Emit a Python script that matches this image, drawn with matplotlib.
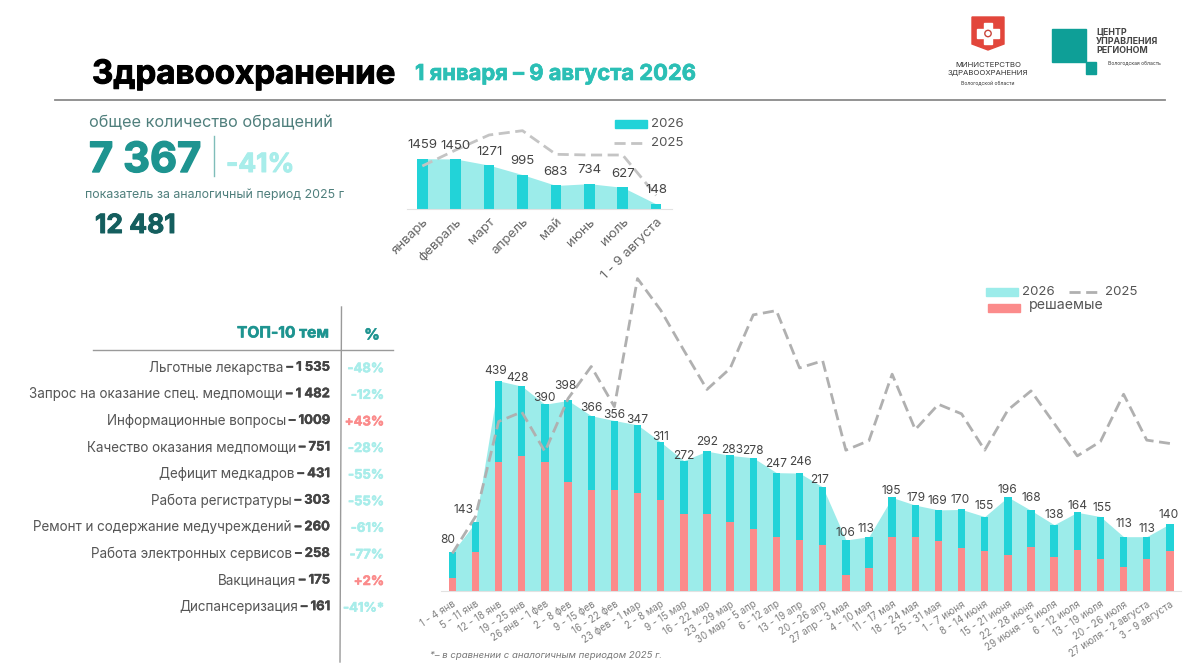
import matplotlib
matplotlib.use("Agg")
import matplotlib.pyplot as plt
import matplotlib.patheffects as pe
from matplotlib.patches import Rectangle, Polygon, Circle

plt.rcParams['font.family'] = ['Inter', 'DejaVu Sans']

W, H = 1200, 668

# monthly chart
months = ['январь', 'февраль', 'март', 'апрель', 'май', 'июнь', 'июль', '1 - 9 августа']
month_2026 = [1459, 1450, 1271, 995, 683, 734, 627, 148]
month_2025 = [1246, 1710, 2145, 2270, 1585, 1565, 1565, 395]

# weekly chart
weeks = ['1 - 4 янв', '5 - 11 янв', '12 - 18 янв', '19 - 25 янв', '26 янв - 1 фев', '2 - 8 фев',
         '9 - 15 фев', '16 - 22 фев', '23 фев - 1 мар', '2 - 8 мар', '9 - 15 мар', '16 - 22 мар',
         '23 - 29 мар', '30 мар - 5 апр', '6 - 12 апр', '13 - 19 апр', '20 - 26 апр', '27 апр - 3 мая',
         '4 - 10 мая', '11 - 17 мая', '18 - 24 мая', '25 - 31 мая', '1 - 7 июня', '8 - 14 июня',
         '15 - 21 июня', '22 - 28 июня', '29 июня - 5 июля', '6 - 12 июля', '13 - 19 июля',
         '20 - 26 июля', '27 июля - 2 августа', '3 - 9 августа']
week_2026 = [80, 143, 439, 428, 390, 398, 366, 356, 347, 311, 272, 292, 283, 278, 247, 246,
             217, 106, 113, 195, 179, 169, 170, 155, 196, 168, 138, 164, 155, 113, 113, 140]
week_solved = [26, 82, 270, 282, 270, 228, 211, 211, 204, 190, 160, 161, 143, 130, 112, 106,
               96, 32, 48, 113, 113, 105, 90, 84, 75, 91, 71, 85, 66, 50, 66, 83]
week_2025 = [78, 155, 354, 374, 291, 402, 469, 385, 653, 587, 503, 421, 465, 577, 586, 466,
             481, 294, 314, 453, 337, 390, 370, 294, 378, 418, 350, 282, 312, 411, 315, 308]

# top-10 table
topics = ['Льготные лекарства', 'Запрос на оказание спец. медпомощи', 'Информационные вопросы',
          'Качество оказания медпомощи', 'Дефицит медкадров', 'Работа регистратуры',
          'Ремонт и содержание медучреждений', 'Работа электронных сервисов', 'Вакцинация',
          'Диспансеризация']
topic_counts = ['1 535', '1 482', '1009', '751', '431', '303', '260', '258', '175', '161']
topic_change = ['-48%', '-12%', '+43%', '-28%', '-55%', '-55%', '-61%', '-77%', '+2%', '-41%*']

TEAL = '#22D3D8'
LIGHT = '#9CECEA'
RED = '#FB8B8B'
DASH = '#B0B0B0'
GRAY = '#555555'
DASHES = (4, 2)

# label nudges in pixels, only to follow the original placement
week_dx = [-5, -12, -3, -4, 0, -3, 0, 0, 0, 0, 0, 0, 2, 0, 0, 1, -3, 0, -3, -1, 1, -1, -1, -1, 0, 0, 0, 0, 2, 0, 0, -1]
week_dy = [12, 12, 10, 8, 6, 14, 8, 6, 5, 5, 5, 9, 5, 7, 9, 11, 7, 7, 8, 6, 7, 9, 9, 11, 7, 12, 10, 6, 9, 13, 8, 9]


def axes_px(fig, left, right, top, bottom):
    return fig.add_axes([left / W, 1 - bottom / H, (right - left) / W, (bottom - top) / H])


def clean(ax):
    ax.patch.set_alpha(0)
    for s in ['top', 'left', 'right']:
        ax.spines[s].set_visible(False)
    ax.spines['bottom'].set_color('#E2E2E2')
    ax.set_yticks([])
    ax.tick_params(axis='x', length=0)


def heavy(txt, col, width=0.7):
    # thickens Inter Bold towards the extra bold of the original
    txt.set_path_effects([pe.withStroke(linewidth=width, foreground=col)])
    return txt


fig = plt.figure(figsize=(W / 100, H / 100), dpi=100, facecolor='white')

# page layer in pixel coordinates
bg = fig.add_axes([0, 0, 1, 1])
bg.set_xlim(0, W)
bg.set_ylim(H, 0)
bg.axis('off')

heavy(bg.text(92, 75, 'Здравоохранение', fontsize=23.8, fontweight='bold', color='black', va='center'), 'black')
heavy(bg.text(415, 74, '1 января – 9 августа 2026', fontsize=15.8, fontweight='bold', color='#2BBFB5', va='center'), '#2BBFB5', 0.5)
bg.plot([55, 1165], [100, 100], color='#8A8A8A', lw=1.3)

bg.text(89, 122, 'общее количество обращений', fontsize=11.7, color='#4F7F7C', va='center')
heavy(bg.text(89, 161, '7 367', fontsize=30, fontweight='bold', color='#1E9490', va='center'), '#1E9490', 1)
bg.plot([214, 214], [136, 176], color='#7FBDB9', lw=1)
heavy(bg.text(226, 165, '-41%', fontsize=19, fontweight='bold', color='#A8EDEA', va='center'), '#A8EDEA')
bg.text(85, 195, 'показатель за аналогичный период 2025 г', fontsize=8.9, color='#4F7F7C', va='center')
heavy(bg.text(95, 226, '12 481', fontsize=19, fontweight='bold', color='#145E5E', va='center'), '#145E5E')

# logos
bg.add_patch(Polygon([(972, 17), (1004, 17), (1004, 44), (988, 50), (972, 44)], color='#E2463B'))
bg.add_patch(Rectangle((984, 23), 8, 21, color='white'))
bg.add_patch(Rectangle((977, 29), 22, 9, color='white'))
bg.add_patch(Circle((988, 33.5), 3.2, fill=False, ec='#C9443A', lw=1))
bg.text(988, 65, 'МИНИСТЕРСТВО', fontsize=5.6, ha='center', va='center', color='#333333')
bg.text(988, 73, 'ЗДРАВООХРАНЕНИЯ', fontsize=5.6, ha='center', va='center', color='#333333')
bg.text(988, 84, 'Вологодской области', fontsize=3.6, ha='center', va='center', color='#333333')
bg.add_patch(Rectangle((1052, 29), 34, 33, color='#0E9F97'))
bg.add_patch(Rectangle((1086, 62), 10, 12, color='#0E9F97'))
bg.text(1096, 32, 'ЦЕНТР', fontsize=6.4, fontweight='bold', va='center', color='#444444')
bg.text(1096, 41.5, 'УПРАВЛЕНИЯ', fontsize=6.4, fontweight='bold', va='center', color='#444444')
bg.text(1096, 50.5, 'РЕГИОНОМ', fontsize=6.4, fontweight='bold', va='center', color='#444444')
bg.text(1108, 63, 'Вологодская область', fontsize=3.6, va='center', color='#333333')

# table
bg.plot([341.5, 340], [307, 662], color='#9A9A9A', lw=1)
bg.plot([93, 393], [350, 350], color='#9A9A9A', lw=1)
heavy(bg.text(329, 333, 'ТОП-10 тем', fontsize=11.2, fontweight='bold', color='#1E9490', ha='right', va='center'), '#1E9490', 0.4)
heavy(bg.text(372, 335, '%', fontsize=11, fontweight='bold', color='#1E9490', ha='center', va='center'), '#1E9490', 0.4)

fig.canvas.draw()
renderer = fig.canvas.get_renderer()
for i in range(len(topics)):
    y = 367.7 + i * 26.6
    num = heavy(bg.text(330, y, '– ' + topic_counts[i], fontsize=9.4, fontweight='bold', color='#444444',
                        ha='right', va='center'), '#444444', 0.3)
    w = num.get_window_extent(renderer).width
    bg.text(330 - w - 3, y, topics[i], fontsize=9.7, color='#555555', ha='right', va='center')
    col = RED if topic_change[i].startswith('+') else '#A8EDEA'
    heavy(bg.text(384, y + 1.5, topic_change[i], fontsize=9.4, fontweight='bold', color=col, ha='right', va='center'), col, 0.4)

# legends
bg.add_patch(Rectangle((615, 120), 32, 8, color=TEAL))
bg.text(651, 124, '2026', fontsize=9.5, color=GRAY, va='center')
bg.plot([614, 645], [143, 143], color='#C4C4C4', lw=2, dashes=DASHES)
bg.text(651, 143, '2025', fontsize=9.5, color=GRAY, va='center')
bg.add_patch(Rectangle((986, 288), 32, 7.5, color=LIGHT))
bg.text(1022, 292, '2026', fontsize=9.5, color=GRAY, va='center')
bg.plot([1069, 1098], [292, 292], color=DASH, lw=2, dashes=DASHES)
bg.text(1105, 292, '2025', fontsize=9.5, color=GRAY, va='center')
bg.add_patch(Rectangle((988, 304), 32, 8, color=RED))
bg.text(1029, 305, 'решаемые', fontsize=10.2, color=GRAY, va='center')

bg.text(430, 655, '*– в сравнении с аналогичным периодом 2025 г.', fontsize=6.9, style='italic',
        color='#777777', va='center')

# monthly chart
ax1 = axes_px(fig, 406.7, 671.7, 120, 209)
x1 = list(range(len(months)))
ax1.fill_between(x1, month_2026, color=LIGHT, lw=0, zorder=1)
ax1.bar(x1, month_2026, width=0.32, color=TEAL, zorder=2)
ax1.plot(x1, month_2025, color='#C4C4C4', lw=2, dashes=DASHES, zorder=3, clip_on=False)
for i, v in enumerate(month_2026):
    ax1.annotate(str(v), (i, v), xytext=(0, 9.7), textcoords='offset points', ha='center', va='center',
                 fontsize=9.5, color='#444444', zorder=4)
ax1.set_xlim(-0.467, 7.467)
ax1.set_ylim(0, 89 / 0.0345)
ax1.set_xticks(x1)
ax1.set_xticklabels(months, rotation=45, ha='right', va='top', rotation_mode='anchor', fontsize=9.6, color='#666666')
ax1.tick_params(axis='x', pad=5)
clean(ax1)

# weekly chart
ax2 = axes_px(fig, 441, 1181, 270, 590.7)
x2 = list(range(len(weeks)))
ax2.fill_between(x2, week_2026, color=LIGHT, lw=0, zorder=1)
ax2.bar(x2, week_2026, width=0.32, color=TEAL, zorder=2)
ax2.bar(x2, week_solved, width=0.32, color=RED, zorder=3)
ax2.plot(x2, week_2025, color=DASH, lw=2, dashes=DASHES, zorder=4)
for i, v in enumerate(week_2026):
    ax2.annotate(str(v), (i, v), xytext=(week_dx[i] * 0.72, week_dy[i] * 0.72), textcoords='offset points',
                 ha='center', va='center', fontsize=8.6, color='#444444', zorder=5)
ax2.set_xlim(-0.49, 31.48)
ax2.set_ylim(0, 320.7 / 0.478)
ax2.set_xticks(x2)
ax2.set_xticklabels(weeks, rotation=33, ha='right', va='top', rotation_mode='anchor', fontsize=7, color='#808080')
ax2.tick_params(axis='x', pad=6)
clean(ax2)

fig.savefig('out.png', dpi=100)
